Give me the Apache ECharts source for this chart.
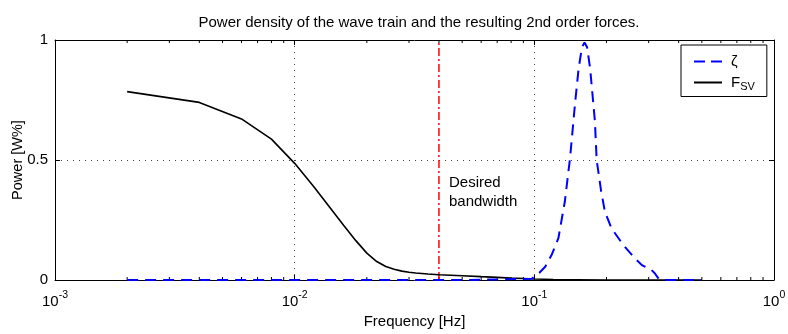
<!DOCTYPE html>
<html>
<head>
<meta charset="utf-8">
<script src="https://cdn.jsdelivr.net/npm/echarts@6/dist/echarts.min.js"></script>
<style>html,body{margin:0;padding:0;background:#fff}#c{width:788px;height:334px}</style>
</head>
<body>
<div id="c"></div>
<script>
// Title / axis text
const titleText = 'Power density of the wave train and the resulting 2nd order forces.';
const xName = 'Frequency [Hz]';
const yName = 'Power [W%]';

// F_SV (black) : [frequency Hz, power]
const fsvFreq = [0.002,0.004,0.006,0.008,0.010,0.012,0.014,0.016,0.018,0.020,0.022,0.024,0.026,0.028,0.030,0.032,0.036,0.040,0.050,0.060,0.070,0.080,0.090,0.100,0.120,0.150,0.200,0.300,0.500];
const fsvVal  = [0.785,0.740,0.671,0.587,0.486,0.390,0.303,0.228,0.164,0.112,0.077,0.056,0.045,0.037,0.032,0.029,0.025,0.022,0.018,0.014,0.011,0.008,0.006,0.004,0.002,0.001,0.000,0.000,0.000];

// zeta (blue dashed)
const zetaFreq = [0.002,0.010,0.050,0.0975,0.105,0.111,0.118,0.126,0.134,0.141,0.148,0.153,0.158,0.162,0.166,0.171,0.179,0.182,0.190,0.197,0.210,0.235,0.263,0.281,0.308,0.318,0.330,0.340,0.500];
const zetaVal  = [0,0,0,0.005,0.030,0.055,0.104,0.174,0.326,0.510,0.740,0.880,0.970,0.990,0.970,0.880,0.660,0.500,0.370,0.285,0.215,0.146,0.090,0.062,0.042,0.028,0.005,0,0];

// Desired bandwidth marker
const bandFreq = 0.04;
const bandLabel = 'Desired\nbandwidth';

// Minor ticks (log axis)
const minorTicks = [0.002,0.003,0.004,0.005,0.006,0.007,0.008,0.009,
                    0.02,0.03,0.04,0.05,0.06,0.07,0.08,0.09,
                    0.2,0.3,0.4,0.5,0.6,0.7,0.8,0.9];

const FONT = '"Liberation Sans", Arial, Helvetica, sans-serif';
const zip = (a,b) => a.map((v,i)=>[v,b[i]]);

const chart = echarts.init(document.getElementById('c'), null, {renderer:'canvas'});

const xLabelFmt = v => {
  const e = Math.round(Math.log10(v));
  return '{b|10}{e|' + e + '}';
};

chart.setOption({
  animation: false,
  backgroundColor: '#fff',
  textStyle: {fontFamily: FONT},
  title: {
    text: titleText, left: 414, textAlign: 'center', top: 10,
    textStyle: {fontFamily: FONT, fontSize: 15, fontWeight: 'normal', color: '#000'}
  },
  grid: {left: 55, right: 14, top: 40, bottom: 54, containLabel: false, outerBoundsMode: 'none'},
  legend: {
    data: [
      {name: 'zeta', icon: 'path://M0,0h11v2h-11z M17,0h11v2h-11z'},
      {name: 'fsv', icon: 'path://M0,0h28v2h-28z'}
    ],
    orient: 'vertical', left: 681, top: 45,
    borderColor: '#000', borderWidth: 1, backgroundColor: '#fff',
    padding: [8, 12, 4, 13], itemGap: 4, itemWidth: 28, itemHeight: 2,
    formatter: n => n === 'zeta' ? '{z|ζ}' : '{f|F}{s|SV}',
    textStyle: {
      color: '#000', fontFamily: FONT, fontSize: 15, padding: [0, 0, 0, 4],
      rich: {
        z: {fontSize: 15, fontFamily: FONT, height: 17, lineHeight: 17},
        f: {fontSize: 15, fontFamily: FONT, height: 17, lineHeight: 17},
        s: {fontSize: 11, fontFamily: FONT, padding: [9, 0, 0, 0]}
      }
    }
  },
  xAxis: [{
    type: 'log', logBase: 10, min: 0.001, max: 1,
    name: xName, nameLocation: 'middle', nameGap: 34, nameMoveOverlap: false,
    nameTextStyle: {fontFamily: FONT, fontSize: 15, color: '#000'},
    axisLine: {show: true, onZero: false, lineStyle: {color: '#000', width: 1}},
    axisTick: {show: true, inside: true, length: 5, lineStyle: {color: '#000'}},
    axisLabel: {
      formatter: xLabelFmt, color: '#000', margin: 8,
      rich: {
        b: {fontSize: 15, fontFamily: FONT, color: '#000', padding: [6, 0, 0, 0]},
        e: {fontSize: 10.5, fontFamily: FONT, color: '#000', padding: [0, 0, 6, 0]}
      }
    },
    splitLine: {show: true, lineStyle: {color: '#444', type: [1, 5], width: 1}}
  }, {
    type: 'log', logBase: 10, min: 0.001, max: 1, position: 'top',
    axisLine: {show: true, onZero: false, lineStyle: {color: '#000', width: 1}},
    axisTick: {show: true, inside: true, length: 5, lineStyle: {color: '#000'}},
    axisLabel: {show: false}, splitLine: {show: false}
  }],
  yAxis: [{
    type: 'value', min: 0, max: 1, interval: 0.5,
    name: yName, nameLocation: 'middle', nameGap: 30, nameRotate: 90, nameMoveOverlap: false,
    nameTextStyle: {fontFamily: FONT, fontSize: 14.5, color: '#000'},
    axisLine: {show: true, onZero: false, lineStyle: {color: '#000', width: 1}},
    axisTick: {show: true, inside: true, length: 5, lineStyle: {color: '#000'}},
    axisLabel: {color: '#000', fontFamily: FONT, fontSize: 15, margin: 7,
      formatter: v => String(v)},
    splitLine: {show: true, lineStyle: {color: '#444', type: [1, 5], width: 1}}
  }, {
    type: 'value', min: 0, max: 1, interval: 0.5, position: 'right',
    axisLine: {show: true, onZero: false, lineStyle: {color: '#000', width: 1}},
    axisTick: {show: true, inside: true, length: 5, lineStyle: {color: '#000'}},
    axisLabel: {show: false}, splitLine: {show: false}
  }],
  series: [
    {
      name: 'minor', type: 'custom', silent: true, z: 1,
      data: minorTicks.map(f => [f]),
      encode: {x: 0},
      renderItem: (params, api) => {
        const f = api.value(0);
        const b = api.coord([f, 0]);
        const t = api.coord([f, 1]);
        return {type: 'group', children: [
          {type: 'line', shape: {x1: b[0], y1: b[1], x2: b[0], y2: b[1] - 3}, style: {stroke: '#000', lineWidth: 1}},
          {type: 'line', shape: {x1: t[0], y1: t[1], x2: t[0], y2: t[1] + 3}, style: {stroke: '#000', lineWidth: 1}}
        ]};
      }
    },
    {
      name: 'band', type: 'line', symbol: 'none', z: 3,
      data: [[bandFreq, 0], [bandFreq, 1]],
      lineStyle: {color: '#ff0000', width: 1.5, type: [8, 3, 2, 3]},
      markPoint: {
        symbol: 'circle', symbolSize: 0, silent: true,
        data: [{coord: [bandFreq, 0.366]}],
        label: {show: true, formatter: bandLabel, position: 'right', distance: 10,
          color: '#000', fontFamily: FONT, fontSize: 15, lineHeight: 19, align: 'left'}
      }
    },
    {
      name: 'fsv', type: 'line', symbol: 'none', z: 4,
      data: zip(fsvFreq, fsvVal),
      lineStyle: {color: '#000', width: 1.6},
      itemStyle: {color: '#000'}
    },
    {
      name: 'zeta', type: 'line', symbol: 'none', z: 5,
      data: zip(zetaFreq, zetaVal),
      lineStyle: {color: '#0000ff', width: 2, type: [11, 7]},
      itemStyle: {color: '#0000ff'}
    }
  ]
});
</script>
</body>
</html>
